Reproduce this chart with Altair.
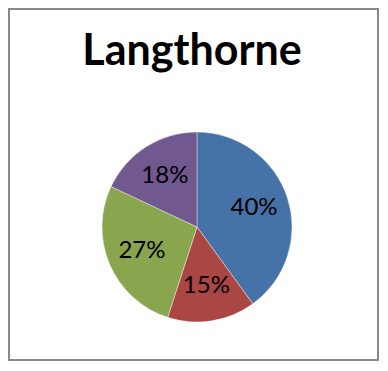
import altair as alt
import pandas as pd

categories = ["1", "2", "3", "4"]
values = [40, 15, 27, 18]
labels = ["40%", "15%", "27%", "18%"]
colors = ["#4572A7", "#AA4643", "#89A54E", "#71588F"]
title_text = ["Langthorne"]

df = pd.DataFrame({"cat": categories, "value": values, "label": labels, "ord": list(range(len(values)))})

CX, CY = 188, 218

pie = alt.Chart(df).mark_arc(outerRadius=95, stroke="#ffffff", strokeWidth=0.4).encode(
    theta=alt.Theta("value:Q", stack=True),
    order=alt.Order("ord:Q"),
    color=alt.Color("cat:N", scale=alt.Scale(domain=categories, range=colors), legend=None),
    x=alt.value(CX),
    y=alt.value(CY),
)

text = alt.Chart(df).mark_text(radius=60, fontSize=24, font="Lato", color="#000000").encode(
    theta=alt.Theta("value:Q", stack=True),
    order=alt.Order("ord:Q"),
    detail="cat:N",
    text="label:N",
    x=alt.value(CX),
    y=alt.value(CY),
)

title = alt.Chart(pd.DataFrame({"t": title_text})).mark_text(
    fontSize=43, font="Lato", fontWeight="bold", color="#000000", baseline="alphabetic"
).encode(text="t:N", x=alt.value(183), y=alt.value(56))

chart = alt.layer(pie, text, title).properties(
    width=369, height=351, autosize="none", padding={"left": 1, "top": 1, "right": 2, "bottom": 3}
).configure_view(stroke="#898989", strokeWidth=2)

chart.save("out.html", embed_options={"renderer": "svg", "actions": False})
